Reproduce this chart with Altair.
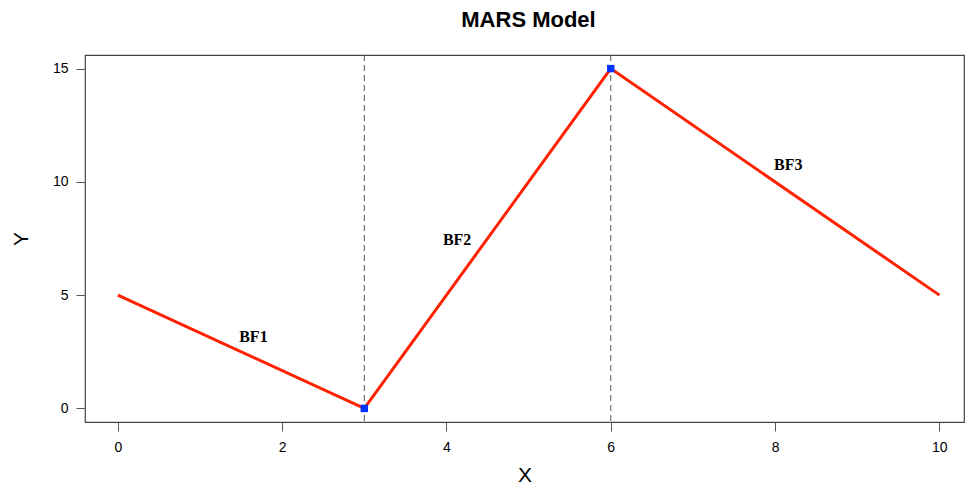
import altair as alt
import pandas as pd

# data
line_x = [0, 3, 6, 10]
line_y = [5, 0, 15, 5]
knot_x = [3, 6]
knot_y = [0, 15]
label_text = ["BF1", "BF2", "BF3"]
label_x = [1.65, 4.13, 8.16]
label_y = [3.15, 7.43, 10.75]
x_ticks = [0, 2, 4, 6, 8, 10]
y_ticks = [0, 5, 10, 15]

line_df = pd.DataFrame({"x": line_x, "y": line_y})
knot_df = pd.DataFrame({"x": knot_x, "y": knot_y})
lab_df = pd.DataFrame({"x": label_x, "y": label_y, "t": label_text})

xs = alt.Scale(domain=[-0.4, 10.3], nice=False, zero=False)
ys = alt.Scale(domain=[-0.6, 15.6], nice=False, zero=False)

axis_common = dict(grid=False, domain=False, tickSize=9, tickColor="#555555",
                   tickWidth=1, labelFont="Liberation Sans", labelFontSize=14,
                   labelColor="#000000", titleFont="Liberation Sans",
                   titleFontSize=21, titleFontWeight="normal", titleColor="#000000",
                   format="d")

xaxis = alt.Axis(values=x_ticks, labelPadding=9, title="X", titlePadding=10, **axis_common)
yaxis = alt.Axis(values=y_ticks, labelPadding=8, title="Y", titlePadding=21, **axis_common)

vlines = alt.Chart(knot_df).mark_rule(color="#555555", strokeDash=[6, 4], strokeWidth=1).encode(
    x=alt.X("x:Q", scale=xs, axis=xaxis),
    y=alt.value(0),
    y2=alt.value(367),
)

line = alt.Chart(line_df).mark_line(color="#FF2200", strokeWidth=3).encode(
    x=alt.X("x:Q", scale=xs, axis=xaxis),
    y=alt.Y("y:Q", scale=ys, axis=yaxis),
)

pts = alt.Chart(knot_df).mark_square(color="#0033FF", size=55, opacity=1).encode(
    x=alt.X("x:Q", scale=xs),
    y=alt.Y("y:Q", scale=ys),
)

labels = alt.Chart(lab_df).mark_text(font="Liberation Serif", fontWeight="bold",
                                     fontSize=16, color="#000000").encode(
    x=alt.X("x:Q", scale=xs),
    y=alt.Y("y:Q", scale=ys),
    text="t:N",
)

chart = alt.layer(vlines, line, pts, labels).properties(
    width=879, height=367,
    autosize=alt.AutoSizeParams(type="none"),
    padding={"left": 77, "top": 47, "right": 1, "bottom": 64},
    title=alt.TitleParams("MARS Model", font="Liberation Sans", fontSize=22,
                          fontWeight="bold", color="#000000", anchor="middle",
                          offset=23, dx=4),
).configure(background="white").configure_view(stroke="#444444", strokeWidth=1.2)

chart.save("out.html", embed_options={"renderer": "svg", "actions": False})
